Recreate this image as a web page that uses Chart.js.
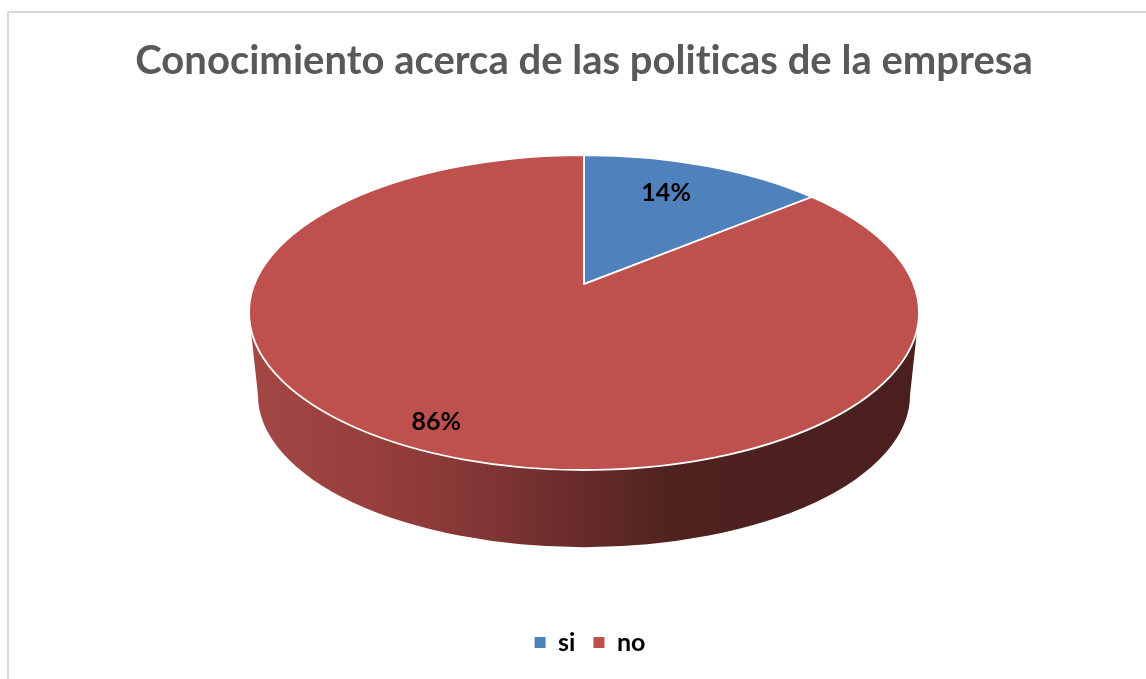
<!DOCTYPE html>
<html>
<head>
<meta charset="utf-8">
<script src="https://cdn.jsdelivr.net/npm/chart.js@4"></script>
<style>
html,body{margin:0;padding:0;background:#fff;overflow:hidden;width:1146px;height:679px}
#frame{position:absolute;left:7px;top:11px;width:1300px;height:800px;border:2px solid #d9d9d9;box-sizing:border-box}
#wrap{position:absolute;left:0;top:0;width:1146px;height:679px}
</style>
</head>
<body>
<div id="frame"></div>
<div id="wrap"><canvas id="c"></canvas></div>
<script>
const categories = ['si', 'no'];
const seriesValues = [14, 86];
const percentLabels = ['14%', '86%'];
const sliceColors = ['#4f81bd', '#be504d'];
const chartTitle = 'Conocimiento acerca de las politicas de la empresa';

// Look of the tilted pie, as ratios of the radius the library computes.
const tilt = { aspect: 2.127, shift: 0.18, sideDrop: 0.525, sideRx: 2.07, sideRy: 0.965 };
const labelStyle = { radial: [0.726, 0.869], turn: [-0.045, 0.02] };
const legendNudge = 6;
const sideStops = [
  [0, '#a34745'], [0.26, '#8f3b39'], [0.37, '#7d3433'], [0.51, '#642a29'],
  [0.64, '#4f2220'], [1, '#4a1f1d']
];

// Project a point on the unit circle so the pie centre sits behind the ellipse centre.
function project(x, y) {
  const c = tilt.shift, d = 1 + c * y;
  return [x * Math.sqrt(1 - c * c) / d, (y + c) / d];
}

const tiltedPie = {
  id: 'tiltedPie',
  afterLayout(chart) {
    chart.legend.left += legendNudge;
    chart.legend.right += legendNudge;
  },
  beforeDraw(chart) {
    // a tiny spacing switches off the "ti" ligature of the font
    chart.ctx.letterSpacing = '0.01px';
  },
  beforeDatasetsDraw(chart) {
    const ctx = chart.ctx;
    const arcs = chart.getDatasetMeta(0).data;
    const R = arcs[0].outerRadius, cx = arcs[0].x, cy = arcs[0].y;
    const rx = R * tilt.aspect, ry = R;
    const apex = [cx, cy - ry * tilt.shift];
    const param = a => {
      const p = project(Math.cos(a), -Math.sin(a));
      return Math.atan2(-p[1], p[0]);
    };

    ctx.save();
    // side wall
    const bRx = R * tilt.sideRx, bRy = R * tilt.sideRy, bCy = cy + R * tilt.sideDrop;
    const g = ctx.createLinearGradient(cx - bRx, 0, cx + bRx, 0);
    sideStops.forEach(s => g.addColorStop(s[0], s[1]));
    ctx.beginPath();
    ctx.moveTo(cx - rx, cy);
    ctx.lineTo(cx - bRx, bCy);
    ctx.ellipse(cx, bCy, bRx, bRy, 0, Math.PI, 0, true);
    ctx.lineTo(cx + rx, cy);
    ctx.ellipse(cx, cy, rx, ry, 0, 0, Math.PI, false);
    ctx.closePath();
    ctx.fillStyle = g;
    ctx.fill();

    // top slices, in the angles the library worked out
    arcs.forEach((arc, i) => {
      ctx.beginPath();
      ctx.moveTo(apex[0], apex[1]);
      const t0 = param(arc.startAngle);
      let t1 = param(arc.endAngle);
      while (t1 <= t0) t1 += Math.PI * 2;
      ctx.ellipse(cx, cy, rx, ry, 0, t0, t1, false);
      ctx.closePath();
      ctx.fillStyle = sliceColors[i];
      ctx.fill();
      ctx.strokeStyle = '#ffffff';
      ctx.lineWidth = 1.8;
      ctx.lineJoin = 'round';
      ctx.stroke();
    });

    // percentage labels
    ctx.fillStyle = '#000000';
    ctx.font = 'bold 25px Lato';
    ctx.textAlign = 'center';
    ctx.textBaseline = 'middle';
    arcs.forEach((arc, i) => {
      const a = (arc.startAngle + arc.endAngle) / 2 + labelStyle.turn[i];
      const f = labelStyle.radial[i];
      const p = project(f * Math.cos(a), -f * Math.sin(a));
      ctx.fillText(percentLabels[i], cx + rx * p[0], cy - ry * p[1]);
    });
    ctx.restore();
    return false;
  }
};

new Chart(document.getElementById('c'), {
  type: 'pie',
  data: {
    labels: categories,
    datasets: [{ data: seriesValues, backgroundColor: sliceColors, borderWidth: 0 }]
  },
  options: {
    responsive: true,
    maintainAspectRatio: false,
    animation: false,
    layout: { padding: { left: 22, top: 0, bottom: 14, right: 0 } },
    plugins: {
      tooltip: { enabled: false },
      title: {
        display: true,
        text: chartTitle,
        color: '#595959',
        font: { family: 'Lato', size: 40, weight: 'bold' },
        padding: { top: 37, bottom: 70 }
      },
      legend: {
        position: 'bottom',
        title: {
          display: true,
          text: ' ',
          font: { size: 10 },
          padding: { top: 130, bottom: 0 }
        },
        labels: {
          color: '#000000',
          font: { family: 'Lato', size: 25, weight: 'bold' },
          boxWidth: 11,
          boxHeight: 11,
          padding: 18
        }
      }
    }
  },
  plugins: [tiltedPie]
});
</script>
</body>
</html>
